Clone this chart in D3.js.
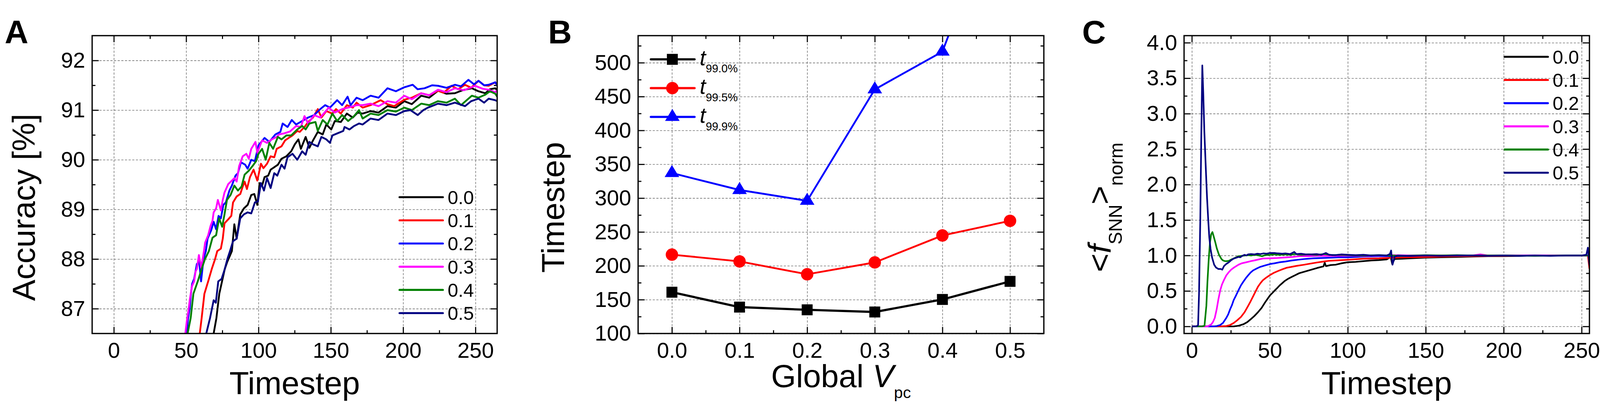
<!DOCTYPE html>
<html>
<head>
<meta charset="utf-8">
<script src="https://cdn.jsdelivr.net/npm/d3@7"></script>
<style>
  html, body { margin: 0; padding: 0; background: #fff; overflow: hidden; }
  svg { display: block; width: 100%; height: 100vh; }
  text { font-family: 'Liberation Sans', Arial, Helvetica, sans-serif; fill: #000; }
</style>
</head>
<body>
<script>
'use strict';

// ---- ticks -------------------------------------------------------------
var timeTicks = [0, 50, 100, 150, 200, 250];
var timeMinor = [25, 75, 125, 175, 225];
var accTicks = [87, 88, 89, 90, 91, 92];
var accMinor = [87.5, 88.5, 89.5, 90.5, 91.5];
var vpcTicks = [0, 0.1, 0.2, 0.3, 0.4, 0.5];
var vpcMinor = [0.05, 0.15, 0.25, 0.35, 0.45];
var stepTicks = [100, 150, 200, 250, 300, 350, 400, 450, 500];
var stepMinor = [125, 175, 225, 275, 325, 375, 425, 475, 525];
var rateTicks = [0, 0.5, 1, 1.5, 2, 2.5, 3, 3.5, 4];
var rateMinor = [0.25, 0.75, 1.25, 1.75, 2.25, 2.75, 3.25, 3.75];

var vpcLabels = ['0.0', '0.1', '0.2', '0.3', '0.4', '0.5'];
var lineColors = ['#000000', '#ff0000', '#0000ff', '#ff00ff', '#008000', '#000080'];

// ---- panel A: accuracy vs timestep [t, %] -----------------------------
var acc00 = [[69,86.5],[70.9,86.81],[72.9,87.3],[74.8,87.55],[76.7,87.8],[78.5,87.95],[80,88.05],[81.6,88.16],[83.3,88.7],[84.9,88.41],[87.4,88.9],[89.9,89.02],[92.5,89.09],[95,89.29],[97.1,89.31],[99.2,89.09],[100.8,89.53],[102.5,89.48],[104.2,89.65],[106.7,89.68],[108.4,89.8],[110.9,89.85],[113.4,89.9],[115.9,90.02],[119.3,90.07],[122.6,90.17],[125.1,90.31],[127.6,90.41],[129.3,90.22],[132.6,90.46],[135.2,90.24],[137.7,90.39],[141,90.56],[144.4,90.51],[146.9,90.71],[150.3,90.61],[152.8,90.78],[156.9,90.76],[161.1,90.93],[165.2,90.85],[168.6,90.95],[172,90.93],[177.5,90.98],[183,90.95],[189.2,91.08],[195,91.05],[200.8,91.18],[206,91.12],[212.5,91.29],[218,91.25],[224.1,91.39],[230,91.33],[235.8,91.34],[241,91.4],[247.5,91.44],[252,91.38],[256.8,91.34],[260,91.42],[263.7,91.44],[265,91.4]];
var acc01 = [[59.4,86.5],[60.7,86.81],[62.6,87.3],[65.2,87.55],[67.7,87.8],[70,88.0],[71.5,88.16],[74,88.21],[75.3,88.41],[76.5,88.72],[79.1,88.8],[81.2,88.87],[82.4,89.14],[84.9,89.26],[87.4,89.31],[89.1,89.46],[90.4,89.56],[92,89.41],[94.1,89.65],[96.6,89.8],[99.2,89.58],[101.7,89.92],[103.4,89.83],[105.9,89.92],[108.4,90.07],[110.9,90.05],[112.6,90.22],[115.9,90.27],[118.4,90.39],[120.9,90.44],[123.5,90.49],[126.8,90.58],[128.5,90.56],[131.8,90.66],[134.3,90.76],[137.7,90.85],[141,91.02],[143.5,90.85],[146.9,90.98],[151.1,90.93],[153.6,91.02],[156.9,90.93],[161.1,91.1],[165.2,91.05],[167.8,91.15],[172,91.05],[177.5,91.1],[184.5,91.2],[189,91.12],[193.8,91.08],[200.8,91.21],[206,91.25],[212.5,91.34],[218,91.3],[224.1,91.39],[228,91.35],[233.5,91.49],[238,91.42],[242.8,91.51],[247,91.45],[252.1,91.59],[256,91.5],[259.1,91.49],[263.7,91.56],[265,91.5]];
var acc02 = [[50.3,86.5],[51.3,86.8],[52.4,87.0],[53.3,87.3],[54.1,87.5],[55.5,87.6],[57.4,87.9],[59,87.95],[60.3,87.55],[62,88.0],[63.6,88.16],[64.8,88.41],[67.3,88.58],[69,88.75],[70.7,88.6],[72.4,88.87],[74,88.82],[75.7,89.09],[77.4,89.14],[79.9,89.38],[81.6,89.48],[84.1,89.68],[85.8,89.73],[87.9,89.95],[90.8,89.9],[92.5,89.82],[95,90.0],[97.5,89.97],[100,90.29],[104.2,90.44],[107.5,90.36],[111.7,90.51],[115.1,90.56],[116.7,90.73],[120.1,90.66],[123,90.8],[126,90.71],[130.2,90.78],[134.3,90.85],[138.5,90.9],[142.7,91.02],[146.1,91.1],[149.4,91.05],[154.4,91.2],[157.8,91.1],[161.6,91.27],[163.7,91.1],[167.8,91.25],[172,91.2],[177.5,91.29],[183,91.25],[189.2,91.44],[195,91.38],[200.8,91.46],[206.6,91.51],[210,91.42],[214.8,91.44],[220,91.5],[224.1,91.49],[230,91.45],[235.8,91.51],[240,91.48],[245.1,91.61],[249,91.52],[252.1,91.59],[256,91.5],[259.1,91.51],[263.7,91.56],[265,91.5]];
var acc03 = [[49.4,86.5],[50.4,86.74],[51.5,86.95],[52.6,87.2],[54,87.45],[55.5,87.55],[56.5,87.75],[57.4,87.8],[58.8,88.08],[60.4,87.82],[62.3,88.16],[63.1,88.33],[65.2,88.48],[66.9,88.67],[68.2,88.77],[69,88.94],[70.7,89.02],[71.9,89.19],[74,88.98],[75.3,89.19],[76.5,89.34],[79.1,89.51],[81.6,89.58],[83.3,89.63],[84.9,89.56],[86.6,89.87],[89.1,90.07],[91.6,90.12],[93.3,90.02],[95,90.22],[97.9,90.36],[99.2,90.14],[102.5,90.39],[105.9,90.34],[109.2,90.41],[112.6,90.46],[114.2,90.51],[117.6,90.53],[121.8,90.57],[126,90.68],[129.3,90.66],[131.8,90.88],[134.3,90.73],[138.5,90.9],[142.7,90.85],[148.6,91.05],[152.8,90.95],[157.8,91.02],[162,91.05],[167.8,91.1],[172,91.1],[177.5,91.13],[183,91.08],[189.2,91.18],[195,91.15],[200.8,91.29],[206,91.22],[212.5,91.34],[218,91.3],[224.1,91.41],[230,91.36],[235.8,91.44],[242,91.4],[249.8,91.49],[255,91.43],[259.1,91.41],[263.7,91.36],[265,91.4]];
var acc04 = [[51,86.5],[53.1,86.81],[55,87.3],[58,87.55],[60.7,87.8],[63,88.0],[65.7,88.16],[68.2,88.43],[70.7,88.48],[72.8,88.82],[74.9,88.65],[76.5,88.9],[78.2,89.19],[80.7,89.29],[83.3,89.48],[85.8,89.38],[88.3,89.46],[90.4,89.7],[93.3,89.78],[95.8,89.87],[98.3,89.97],[100,90.12],[102.5,90.22],[105,90.0],[107.5,90.34],[110.1,90.22],[113.4,90.46],[115.9,90.41],[119.3,90.49],[122.6,90.49],[126.8,90.61],[130.2,90.68],[132.6,90.61],[135.2,90.73],[139.4,90.76],[141,90.58],[144.4,90.8],[147.7,90.71],[151.1,90.93],[154.4,90.78],[157.8,90.9],[162,90.78],[166.1,90.88],[169.5,91.0],[172,90.83],[177.5,90.93],[183,90.9],[189.2,91.0],[195,90.97],[200.8,91.05],[206,91.0],[212.5,91.13],[218,91.1],[224.1,91.18],[230,91.15],[235.8,91.23],[240,91.1],[247.5,91.29],[252,91.25],[256.8,91.31],[260,91.38],[263.7,91.33],[265,91.27]];
var acc05 = [[63.9,86.5],[66.5,86.81],[69,87.17],[70.5,87.12],[72.2,87.55],[74.5,87.6],[76.7,87.8],[78.5,88.0],[80.3,88.16],[82.4,88.36],[84.9,88.41],[87.4,88.82],[89.9,88.9],[92.5,88.94],[95,88.92],[97.5,89.14],[99.6,89.16],[101.7,89.53],[103.8,89.38],[105.9,89.63],[108.4,89.43],[110.9,89.73],[113,89.68],[115.9,89.9],[118,89.82],[120.1,90.05],[123.5,90.12],[126.8,90.0],[130.2,90.17],[132.6,90.1],[135.2,90.36],[137.7,90.31],[141,90.27],[143.5,90.46],[146.9,90.41],[149.4,90.34],[151.1,90.49],[154.4,90.53],[158.6,90.58],[159.5,90.66],[162.9,90.61],[166.1,90.68],[169.5,90.73],[172,90.71],[177.5,90.83],[183,90.8],[189.2,90.93],[195,90.9],[200.8,90.98],[205,91.0],[210.1,90.9],[214,91.0],[217.1,91.05],[224.1,91.13],[230,91.1],[235.8,91.15],[242.8,91.08],[247,91.18],[252.1,91.23],[256,91.15],[259.1,91.23],[263.7,91.2],[265,91.18]];

// ---- panel B: timesteps to reach a fraction of final accuracy ---------
var vpcValues = [0, 0.1, 0.2, 0.3, 0.4, 0.5];
var t990 = [161, 139, 135, 131.8, 150.3, 177];
var t995 = [216.5, 206.5, 187.5, 205, 244.8, 266.4];
var t999 = [337, 312, 296, 460.6, 516.4, 780];
var tLabels = ['99.0%', '99.5%', '99.9%'];

// ---- panel C: normalised SNN firing rate [t, rate] --------------------
var rate00 = [[0,0],[20,0],[26.8,0],[30,0.01],[33,0.03],[35.5,0.06],[37.7,0.1],[40,0.145],[42.4,0.2],[44.7,0.26],[47,0.34],[48.6,0.39],[50.2,0.44],[51.8,0.475],[53.3,0.51],[54.9,0.545],[56.4,0.58],[58,0.61],[59.5,0.64],[62,0.675],[64.2,0.7],[66.5,0.725],[68.8,0.75],[72.7,0.775],[76.6,0.8],[80.5,0.825],[84.4,0.846],[85.2,0.9],[86,0.85],[89,0.865],[92.2,0.87],[96,0.89],[100,0.905],[105,0.91],[110,0.92],[115,0.93],[120,0.935],[125,0.945],[127.5,0.98],[128.5,0.88],[130,0.95],[135,0.955],[140,0.96],[150,0.97],[160,0.975],[170,0.98],[180,0.985],[190,0.99],[200,0.99],[210,0.995],[220,1.0],[240,1.0],[255,1.0]];
var rate01 = [[0,0],[15,0],[18.2,0],[22.1,0.005],[24.5,0.02],[26.8,0.048],[29,0.085],[31.5,0.134],[33.8,0.2],[36.1,0.29],[37.7,0.355],[39.3,0.425],[40.9,0.495],[42.4,0.56],[44,0.61],[45.5,0.65],[47.8,0.69],[50.2,0.725],[52.5,0.755],[54.8,0.777],[58,0.805],[61,0.828],[64,0.84],[67.3,0.854],[72,0.87],[76.6,0.888],[80,0.9],[84.4,0.915],[88,0.925],[92,0.93],[100,0.94],[110,0.955],[120,0.96],[130,0.97],[140,0.975],[150,0.98],[160,0.985],[170,0.99],[180,0.99],[200,0.995],[220,1.0],[240,1.0],[250,1.0],[254,1.0],[255,0.81]];
var rate02 = [[0,0],[10,0],[14.3,0],[16,0.005],[18.2,0.02],[20,0.05],[22.1,0.12],[23.3,0.17],[24.5,0.24],[25.7,0.3],[26.8,0.37],[28.4,0.44],[29.9,0.51],[31.5,0.58],[33,0.63],[34.6,0.68],[36.1,0.72],[37.7,0.76],[39.3,0.79],[41.5,0.815],[43.9,0.84],[47,0.86],[50.2,0.88],[53,0.89],[56.4,0.905],[60,0.915],[64.2,0.93],[68,0.94],[72,0.95],[78,0.96],[84.4,0.966],[90,0.97],[95,0.975],[100,0.974],[110,0.985],[120,0.99],[130,0.99],[140,0.995],[150,1.0],[170,1.0],[200,1.0],[230,1.0],[255,1.0]];
var rate03 = [[0,0],[8,0],[10,0],[11.2,0.014],[12.5,0.03],[13.6,0.065],[14.7,0.12],[15.9,0.24],[17,0.38],[18.2,0.51],[19.3,0.59],[20.5,0.65],[22.1,0.72],[23.5,0.76],[25.2,0.8],[27,0.83],[29.9,0.87],[32,0.89],[35,0.905],[37.7,0.92],[40,0.93],[43,0.945],[45.5,0.957],[50,0.96],[55,0.965],[61,0.974],[65,0.98],[69,0.99],[75,0.99],[80,0.995],[90,0.995],[100,1.0],[110,0.995],[120,1.0],[130,1.005],[140,1.0],[160,1.0],[180,1.0],[185,1.015],[190,1.0],[220,1.0],[240,1.0],[255,1.0]];
var rate04 = [[0,0],[5,0],[6.5,0],[8.1,0.01],[9.3,0.29],[10,0.63],[10.8,0.94],[11.6,1.18],[12.4,1.3],[13.2,1.33],[14,1.27],[15.1,1.18],[16,1.1],[17.4,1.01],[19,0.95],[20,0.93],[21,0.922],[22.5,0.92],[23.7,0.925],[25,0.94],[26.8,0.957],[28,0.97],[29.9,0.99],[32,0.995],[34,1.0],[36,1.005],[38,1.0],[40,1.01],[42,1.005],[45,0.99],[47,1.005],[50,1.01],[53,1.017],[56,1.01],[60,1.015],[63,1.01],[66,1.02],[70,1.01],[75,1.015],[80,1.01],[85,1.02],[90,1.005],[95,1.01],[100,1.005],[110,1.0],[120,1.005],[128,1.0],[135,0.995],[150,1.005],[160,1.0],[170,1.005],[180,1.0],[200,1.0],[220,0.995],[240,1.0],[250,1.0],[255,1.0]];
var rate05 = [[0,0],[2,0],[3,0],[4,0.02],[4.6,0.46],[5.4,1.5],[6,2.6],[6.7,3.68],[7.3,3.3],[8,2.75],[9,2.2],[9.7,1.83],[10.5,1.5],[11.2,1.25],[12,1.09],[13,0.97],[14.3,0.87],[15.5,0.83],[17,0.81],[18.5,0.81],[19.5,0.8],[20.6,0.85],[22,0.88],[23.7,0.905],[25,0.93],[26.8,0.957],[28,0.965],[29.9,0.98],[31,0.975],[32,0.99],[33.8,1.01],[35,1.0],[36,1.015],[38,1.02],[40,1.015],[42,1.025],[44,1.02],[46,1.03],[48,1.025],[50,1.035],[53,1.035],[55,1.03],[58,1.025],[60,1.03],[63,1.02],[65.7,1.05],[67,1.02],[70,1.025],[73,1.015],[76.6,1.015],[80,1.02],[83,1.01],[86,1.035],[88,1.01],[92,1.005],[96,1.015],[100,1.01],[105,1.005],[110,1.01],[115,1.0],[120,1.005],[125,1.0],[127,1.02],[127.8,1.07],[128.7,0.87],[130,0.98],[132,1.0],[140,0.995],[150,1.0],[160,0.995],[170,1.0],[180,1.0],[190,0.995],[200,1.0],[210,0.995],[220,1.0],[230,0.995],[240,1.0],[250,1.0],[253,1.01],[254,1.11],[255,0.86]];

// ---- drawing -----------------------------------------------------------
var svg = d3.select('body').append('svg')
  .attr('viewBox', '0 0 4393 1069')
  .attr('preserveAspectRatio', 'xMidYMid meet');

var clipCount = 0;

function drawPanel(x, y, opt) {
  var g = svg.append('g');
  var left = x.range()[0], right = x.range()[1];
  var bottom = y.range()[0], top = y.range()[1];
  var w = right - left, h = bottom - top;

  var gridX = g.append('g').attr('transform', 'translate(0,' + bottom + ')')
    .call(d3.axisBottom(x).tickValues(opt.xTicks).tickSize(-h).tickFormat(''));
  var gridY = g.append('g').attr('transform', 'translate(' + left + ',0)')
    .call(d3.axisLeft(y).tickValues(opt.yTicks).tickSize(-w).tickFormat(''));
  [gridX, gridY].forEach(function(a) {
    a.select('.domain').remove();
    a.selectAll('line').attr('stroke', '#7a7a7a').attr('stroke-width', 1.7).attr('stroke-dasharray', '6,4');
  });

  function ticks(axis, transform, values, size, fmt, pad) {
    var a = g.append('g').attr('transform', transform)
      .call(axis.tickValues(values).tickSize(-size).tickPadding(pad || 0).tickFormat(fmt || ''));
    a.attr('font-size', null).attr('font-family', null);
    a.select('.domain').remove();
    a.selectAll('line').attr('stroke', '#000').attr('stroke-width', 3);
    a.selectAll('text').style('font-size', '60px');
    return a;
  }
  ticks(d3.axisBottom(x), 'translate(0,' + bottom + ')', opt.xTicks, 18, opt.xFmt, 24);
  ticks(d3.axisBottom(x), 'translate(0,' + bottom + ')', opt.xMinor, 9);
  ticks(d3.axisTop(x), 'translate(0,' + top + ')', opt.xTicks, 18);
  ticks(d3.axisTop(x), 'translate(0,' + top + ')', opt.xMinor, 9);
  ticks(d3.axisLeft(y), 'translate(' + left + ',0)', opt.yTicks, 18, opt.yFmt, 19);
  ticks(d3.axisLeft(y), 'translate(' + left + ',0)', opt.yMinor, 9);
  ticks(d3.axisRight(y), 'translate(' + right + ',0)', opt.yTicks, 18);
  ticks(d3.axisRight(y), 'translate(' + right + ',0)', opt.yMinor, 9);

  var clipId = 'clip' + (clipCount++);
  svg.append('clipPath').attr('id', clipId)
    .append('rect').attr('x', left).attr('y', top).attr('width', w).attr('height', h);

  var plot = g.append('g').attr('clip-path', 'url(#' + clipId + ')');
  var frame = g.append('rect')
    .attr('x', left).attr('y', top).attr('width', w).attr('height', h)
    .attr('fill', 'none').attr('stroke', '#000').attr('stroke-width', 3.5);

  g.append('text').attr('x', opt.letterX).attr('y', 80)
    .style('font-size', '90px').style('font-weight', 'bold')
    .text(opt.letter);

  return { g: g, plot: plot, frame: frame };
}

function drawCurves(p, x, y, series, width) {
  var line = d3.line().x(function(d) { return x(d[0]); }).y(function(d) { return y(d[1]); });
  p.plot.selectAll('path.curve').data(series).enter().append('path')
    .attr('class', 'curve')
    .attr('d', function(d) { return line(d); })
    .attr('fill', 'none')
    .attr('stroke', function(d, i) { return lineColors[i]; })
    .attr('stroke-width', width)
    .attr('stroke-linejoin', 'round');
}

function drawLineLegend(g, x0, y0) {
  var rows = g.selectAll('g.leg').data(vpcLabels).enter().append('g')
    .attr('class', 'leg')
    .attr('transform', function(d, i) { return 'translate(' + x0 + ',' + (y0 + i * 63.6) + ')'; });
  rows.append('line').attr('x1', 0).attr('x2', 119).attr('y1', 0).attr('y2', 0)
    .attr('stroke', function(d, i) { return lineColors[i]; })
    .attr('stroke-width', 5.5).attr('stroke-linecap', 'round');
  rows.append('text').attr('x', 132).attr('dy', '0.36em')
    .style('font-size', '52px')
    .text(function(d) { return d; });
}

function yTitle(x, parts) {
  var t = svg.append('text')
    .attr('transform', 'translate(' + x + ',530) rotate(-90)')
    .attr('text-anchor', 'middle')
    .style('font-size', '88px');
  parts.forEach(function(p) {
    var s = t.append('tspan').text(p.text);
    if (p.italic) s.style('font-style', 'italic');
    if (p.size) s.style('font-size', p.size + 'px');
    if (p.dy) s.attr('dy', p.dy);
  });
  return t;
}

// ---- A ----
var xA = d3.scaleLinear().domain([-15, 265]).range([253, 1365]);
var yA = d3.scaleLinear().domain([86.5, 92.5]).range([876, 59]);
var pA = drawPanel(xA, yA, {
  xTicks: timeTicks, xMinor: timeMinor, yTicks: accTicks, yMinor: accMinor,
  xFmt: d3.format('d'), yFmt: d3.format('d'), letter: 'A', letterX: 13
});
drawCurves(pA, xA, yA, [acc00, acc01, acc02, acc03, acc04, acc05], 5);
drawLineLegend(pA.g, 1097, 502);
svg.append('text').attr('x', 809).attr('y', 1042).attr('text-anchor', 'middle')
  .style('font-size', '88px').text('Timestep');
yTitle(95, [{ text: 'Accuracy [%]' }]);

// ---- B ----
var xB = d3.scaleLinear().domain([-0.05, 0.55]).range([1752, 2866]);
var yB = d3.scaleLinear().domain([100, 540]).range([876, 59]);
var pB = drawPanel(xB, yB, {
  xTicks: vpcTicks, xMinor: vpcMinor, yTicks: stepTicks, yMinor: stepMinor,
  xFmt: d3.format('.1f'), yFmt: d3.format('d'), letter: 'B', letterX: 1505
});

var squareSym = function(sel) {
  sel.append('rect').attr('x', -15).attr('y', -15).attr('width', 30).attr('height', 30);
};
var circleSym = function(sel) {
  sel.append('circle').attr('r', 17);
};
var triangleSym = function(sel) {
  sel.append('path').attr('d', 'M0,-22L20,11L-20,11Z');
};
var bSeries = [
  { values: t990, color: '#000000', width: 6, sym: squareSym },
  { values: t995, color: '#ff0000', width: 5, sym: circleSym },
  { values: t999, color: '#0000ff', width: 5, sym: triangleSym }
];
var lineB = d3.line()
  .x(function(d) { return xB(d[0]); })
  .y(function(d) { return yB(d[1]); });

bSeries.forEach(function(s, k) {
  var pts = vpcValues.map(function(v, i) { return [v, s.values[i]]; });
  pB.plot.append('path')
    .attr('d', lineB(pts))
    .attr('fill', 'none')
    .attr('stroke', s.color)
    .attr('stroke-width', s.width);
  pts.filter(function(d) { return d[1] <= yB.domain()[1]; }).forEach(function(d) {
    var m = pB.plot.append('g')
      .attr('transform', 'translate(' + xB(d[0]) + ',' + yB(d[1]) + ')')
      .attr('fill', s.color);
    s.sym(m);
  });

  // legend row
  var ly = 124 + k * 79;
  var leg = pB.g.append('g').attr('transform', 'translate(0,' + ly + ')');
  leg.append('line').attr('x1', 1787).attr('x2', 1907).attr('y1', 0).attr('y2', 0)
    .attr('stroke', s.color).attr('stroke-width', 6).attr('stroke-linecap', 'round');
  var lm = leg.append('g').attr('transform', 'translate(1846,0)').attr('fill', s.color);
  s.sym(lm);
  var lt = leg.append('text').attr('x', 1921).attr('y', 16).style('font-size', '60px');
  lt.append('tspan').style('font-style', 'italic').text('t');
  lt.append('tspan').attr('dy', 20).style('font-size', '31px').text(tLabels[k]);
});

var gx = svg.append('text').attr('x', 2309).attr('y', 1023).attr('text-anchor', 'middle')
  .style('font-size', '88px');
gx.append('tspan').text('Global ');
gx.append('tspan').style('font-style', 'italic').text('V');
gx.append('tspan').attr('dy', 30).style('font-size', '44px').text('pc');
yTitle(1549, [{ text: 'Timestep' }]);

// ---- C ----
var xC = d3.scaleLinear().domain([-5, 255]).range([3251, 4364]);
var yC = d3.scaleLinear().domain([-0.1, 4.1]).range([876, 59]);
var pC = drawPanel(xC, yC, {
  xTicks: timeTicks, xMinor: timeMinor, yTicks: rateTicks, yMinor: rateMinor,
  xFmt: d3.format('d'), yFmt: d3.format('.1f'), letter: 'C', letterX: 2971
});
drawCurves(pC, xC, yC, [rate00, rate01, rate02, rate03, rate04, rate05], 4.5);
drawLineLegend(pC.g, 4131, 117);
svg.append('text').attr('x', 3807).attr('y', 1042).attr('text-anchor', 'middle')
  .style('font-size', '88px').text('Timestep');
yTitle(3049, [
  { text: '<' },
  { text: 'f', italic: true },
  { text: 'SNN', size: 52, dy: 31 },
  { text: '>', dy: -31 },
  { text: 'norm', size: 52, dy: 33 }
]);

// keep frames on top of everything drawn inside them
[pA, pB, pC].forEach(function(p) { p.frame.raise(); });
</script>
</body>
</html>
